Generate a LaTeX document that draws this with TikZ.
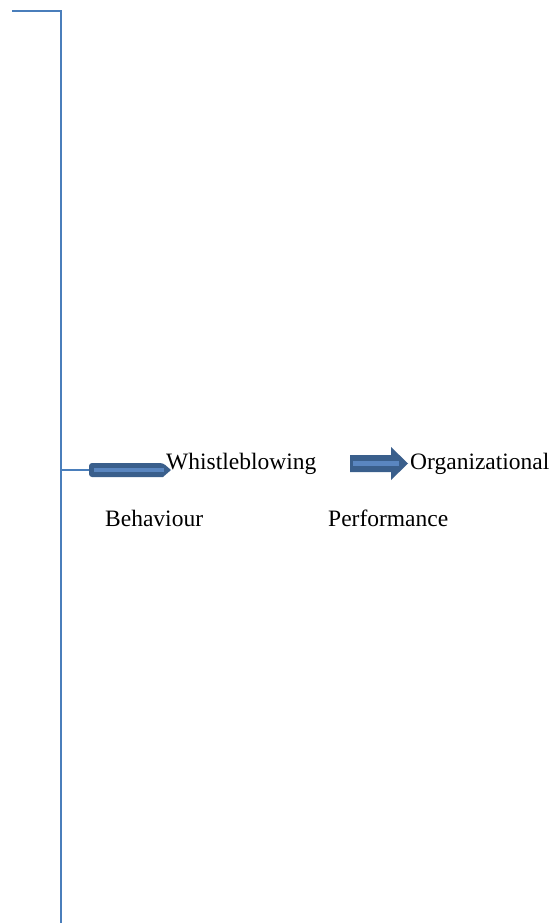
\documentclass[tikz,border=0pt]{standalone}
\usepackage{fontspec}
\setmainfont{Liberation Serif}
\definecolor{lineblue}{HTML}{4A7EBB}
\definecolor{arrowdark}{HTML}{3A5F8C}
\definecolor{arrowlight}{HTML}{5A86C0}
\begin{document}
\begin{tikzpicture}
    [x=1pt,y=-1pt,
     bracket/.style={draw=lineblue,line width=2pt},
     blockarrow/.style={fill=arrowdark},
     stripe/.style={draw=arrowlight,line width=5pt},
     word/.style={anchor=base west,inner sep=0pt,font=\fontsize{23.5}{28}\selectfont}]
    \useasboundingbox (0,0) rectangle (559,923);
    \coordinate (top) at (12,11);
    \coordinate (corner) at (61,11);
    \coordinate (bottom) at (61,923);
    \coordinate (join) at (61,470);
    \coordinate (aTail) at (89,470);
    \coordinate (bTail) at (350,463.5);
    \draw [bracket] (top) -- (corner) -- (bottom);
    \draw [bracket] (join) -- (aTail);
    % thin arrow into the first word
    \fill [blockarrow,rounded corners=3pt] (89,477) -- (89,463) -- (163,463)
      [sharp corners] -- (171,470) -- (163,477) [rounded corners=3pt] -- cycle;
    \draw [stripe,line width=4.5pt] (94,470) -- (164,470);
    % block arrow between the words
    \fill [blockarrow] (bTail) |- (391,455) -- (391,447) -- (408,463.5)
      -- (391,480) -- (391,472) -| (bTail);
    \draw [stripe] (353,463.5) -- (399,463.5);
    \node [word] (whistle) at (166,469) {Whistleblowing};
    \node [word] (org) at (410,469) {Organizational};
    \node [word] (behav) at (105,526) {Behaviour};
    \node [word] (perf) at (328,526) {Performance};
\end{tikzpicture}
\end{document}
